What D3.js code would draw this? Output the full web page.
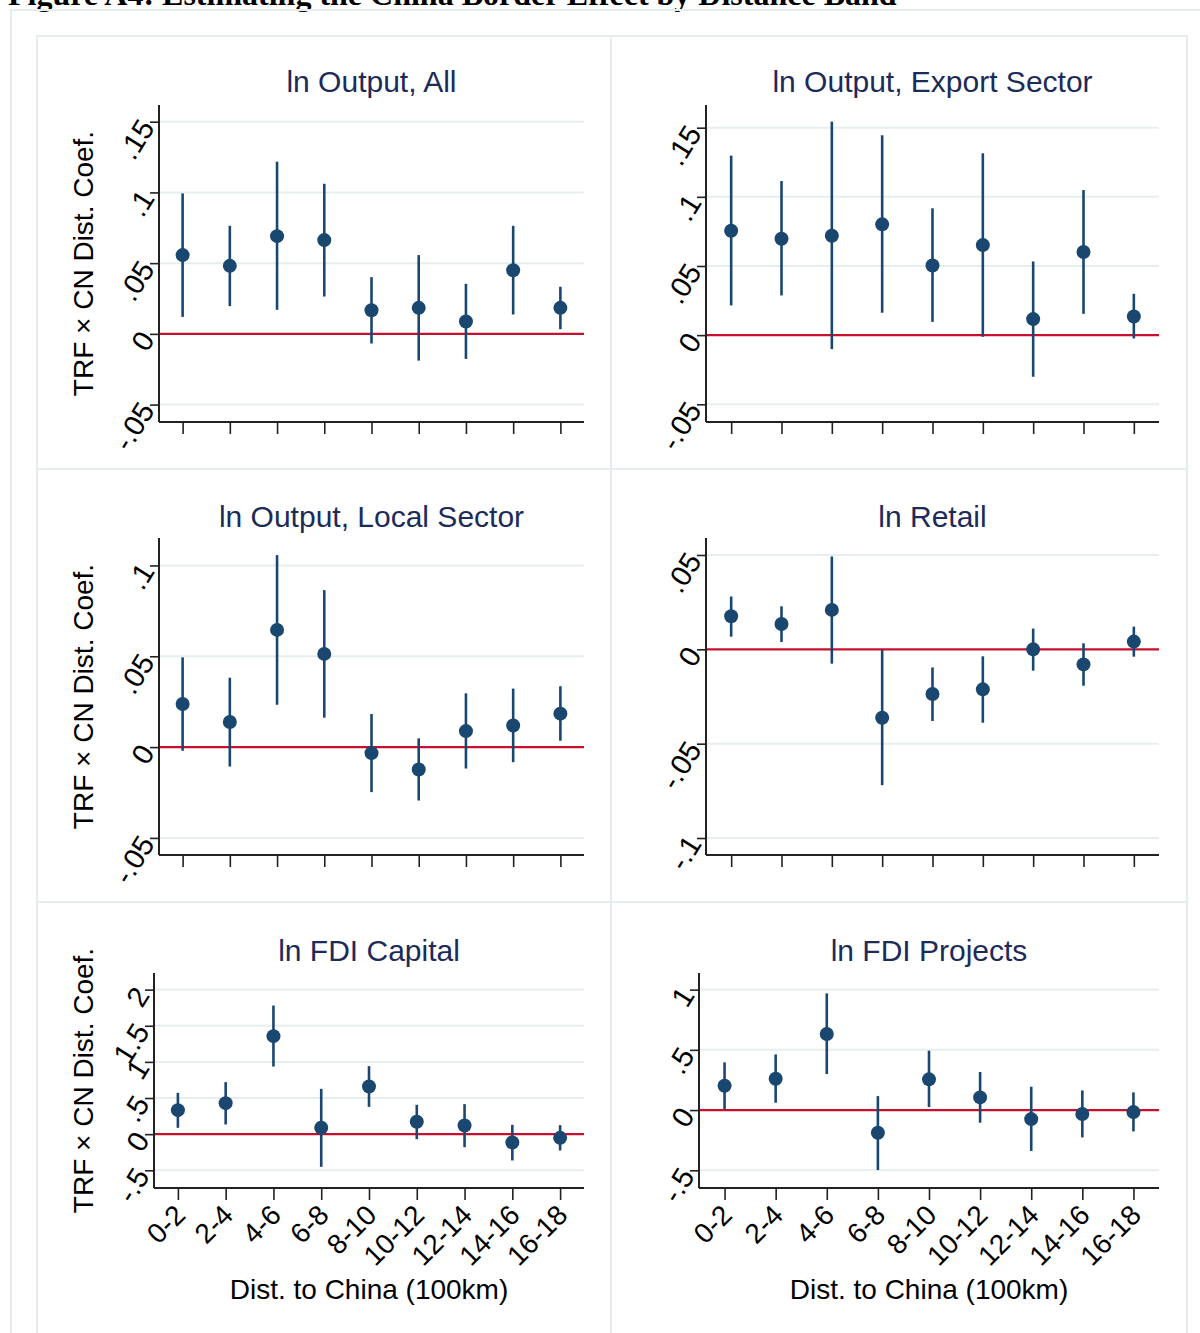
<!DOCTYPE html>
<html>
<head>
<meta charset="utf-8">
<script src="https://cdn.jsdelivr.net/npm/d3@7"></script>
<style>
  body { margin: 0; background: #fff; }
  svg text { font-family: "Liberation Sans", Arial, Helvetica, sans-serif; }
</style>
</head>
<body>
<svg id="chart" width="1200" height="1333"></svg>
<script>
// distance bands (100km)
var bands = ["0-2", "2-4", "4-6", "6-8", "8-10", "10-12", "12-14", "14-16", "16-18"]

// ln Output, All
var allCoef = [0.0557, 0.0481, 0.0691, 0.0663, 0.0167, 0.0184, 0.0087, 0.0450, 0.0184]
var allLo   = [0.0120, 0.0196, 0.0170, 0.0264, -0.0068, -0.0189, -0.0177, 0.0137, 0.0033]
var allHi   = [0.0993, 0.0764, 0.1217, 0.1061, 0.0401, 0.0557, 0.0354, 0.0764, 0.0333]

// ln Output, Export Sector
var expCoef = [0.0755, 0.0697, 0.0719, 0.0801, 0.0504, 0.0651, 0.0116, 0.0601, 0.0135]
var expLo   = [0.0215, 0.0287, -0.0101, 0.0162, 0.0096, -0.0012, -0.0301, 0.0154, -0.0024]
var expHi   = [0.1298, 0.1114, 0.1544, 0.1445, 0.0917, 0.1315, 0.0533, 0.1049, 0.0299]

// ln Output, Local Sector
var locCoef = [0.0237, 0.0138, 0.0645, 0.0513, -0.0033, -0.0123, 0.0088, 0.0119, 0.0184]
var locLo   = [-0.0020, -0.0107, 0.0233, 0.0162, -0.0248, -0.0294, -0.0118, -0.0083, 0.0035]
var locHi   = [0.0494, 0.0382, 0.1057, 0.0864, 0.0182, 0.0048, 0.0296, 0.0322, 0.0335]

// ln Retail
var retCoef = [0.0175, 0.0134, 0.0209, -0.0363, -0.0237, -0.0212, 0.0000, -0.0080, 0.0041]
var retLo   = [0.0067, 0.0039, -0.0076, -0.0720, -0.0380, -0.0389, -0.0113, -0.0193, -0.0039]
var retHi   = [0.0280, 0.0228, 0.0492, -0.0004, -0.0096, -0.0037, 0.0110, 0.0032, 0.0120]

// ln FDI Capital
var capCoef = [0.332, 0.429, 1.356, 0.088, 0.660, 0.171, 0.120, -0.115, -0.051]
var capLo   = [0.088, 0.134, 0.936, -0.452, 0.378, -0.069, -0.180, -0.364, -0.226]
var capHi   = [0.572, 0.720, 1.780, 0.627, 0.941, 0.406, 0.415, 0.129, 0.125]

// ln FDI Projects
var prjCoef = [0.202, 0.260, 0.631, -0.188, 0.255, 0.105, -0.075, -0.033, -0.017]
var prjLo   = [0.008, 0.061, 0.299, -0.498, 0.025, -0.105, -0.340, -0.227, -0.177]
var prjHi   = [0.396, 0.462, 0.969, 0.116, 0.493, 0.316, 0.194, 0.163, 0.147]

// y tick values per panel
var ticksSmall  = [-0.05, 0, 0.05, 0.1, 0.15]
var ticksLocal  = [-0.05, 0, 0.05, 0.1]
var ticksRetail = [-0.1, -0.05, 0, 0.05]
var ticksCap    = [-0.5, 0, 0.5, 1, 1.5, 2]
var ticksPrj    = [-0.5, 0, 0.5, 1]

var navy = "#1a476f",
    red = "#c8102e",
    titleCol = "#1c2b5a",
    gridCol = "#e7eeef",
    frameCol = "#e6edef"

var svg = d3.select("#chart")

function fmt(v) {
  if (v === 0) return "0"
  var s = String(Math.round(v * 1000) / 1000)
  return s.replace(/^0\./, ".").replace(/^-0\./, "-.")
}

// figure caption, cut at the top like the scanned page
svg.append("text")
  .attr("x", 8).attr("y", 5)
  .style("font-family", "'Liberation Serif', 'Times New Roman', serif")
  .style("font-weight", "bold")
  .style("font-size", "32px")
  .attr("fill", "#000")
  .text("Figure A4: Estimating the China Border Effect by Distance Band")

// page frame and panel cells
svg.append("rect").attr("x", 11).attr("y", 10).attr("width", 1220).attr("height", 1400)
  .attr("fill", "none").attr("stroke", frameCol).attr("stroke-width", 2)

var cellX = [37, 611, 1187], cellY = [36, 469, 902, 1340]
for (var r = 0; r < 3; r++) {
  for (var c = 0; c < 2; c++) {
    svg.append("rect")
      .attr("x", cellX[c]).attr("y", cellY[r])
      .attr("width", cellX[c + 1] - cellX[c]).attr("height", cellY[r + 1] - cellY[r])
      .attr("fill", "none").attr("stroke", frameCol).attr("stroke-width", 2)
  }
}

var panels = [
  {title: "ln Output, All", coef: allCoef, lo: allLo, hi: allHi, ticks: ticksSmall,
   x0: 159, x1: 584, y0: 105, y1: 422, dom: [-0.0623, 0.1618], ytitle: true, xlabels: false, ty: 92},
  {title: "ln Output, Export Sector", coef: expCoef, lo: expLo, hi: expHi, ticks: ticksSmall,
   x0: 706, x1: 1159, y0: 105, y1: 422, dom: [-0.0628, 0.1664], ytitle: false, xlabels: false, ty: 92},
  {title: "ln Output, Local Sector", coef: locCoef, lo: locLo, hi: locHi, ticks: ticksLocal,
   x0: 159, x1: 584, y0: 538, y1: 855, dom: [-0.0594, 0.1151], ytitle: true, xlabels: false, ty: 527},
  {title: "ln Retail", coef: retCoef, lo: retLo, hi: retHi, ticks: ticksRetail,
   x0: 706, x1: 1159, y0: 538, y1: 855, dom: [-0.109, 0.059], ytitle: false, xlabels: false, ty: 527},
  {title: "ln FDI Capital", coef: capCoef, lo: capLo, hi: capHi, ticks: ticksCap,
   x0: 154, x1: 584, y0: 973, y1: 1188, dom: [-0.745, 2.23], ytitle: true, xlabels: true, ty: 961},
  {title: "ln FDI Projects", coef: prjCoef, lo: prjLo, hi: prjHi, ticks: ticksPrj,
   x0: 699, x1: 1159, y0: 973, y1: 1188, dom: [-0.647, 1.138], ytitle: false, xlabels: true, ty: 961}
]

panels.forEach(drawPanel)

function drawPanel(p) {
  var g = svg.append("g")

  var x = d3.scalePoint().domain(bands).range([p.x0, p.x1]).padding(0.5)
  var y = d3.scaleLinear().domain(p.dom).range([p.y1, p.y0])

  // title
  g.append("text")
    .attr("x", (p.x0 + p.x1) / 2).attr("y", p.ty)
    .attr("text-anchor", "middle")
    .style("font-size", "30px")
    .attr("fill", titleCol)
    .text(p.title)

  // grid lines
  g.selectAll(".grid").data(p.ticks.filter(function(t) { return t !== 0 }))
    .enter().append("line")
      .attr("x1", p.x0).attr("x2", p.x1)
      .attr("y1", function(d) { return y(d) }).attr("y2", function(d) { return y(d) })
      .attr("stroke", gridCol).attr("stroke-width", 2)

  // zero line
  g.append("line")
    .attr("x1", p.x0).attr("x2", p.x1)
    .attr("y1", y(0)).attr("y2", y(0))
    .attr("stroke", red).attr("stroke-width", 2.2)

  // y axis
  var yAxis = g.append("g")
    .attr("transform", "translate(" + p.x0 + ",0)")
    .call(d3.axisLeft(y).tickValues(p.ticks).tickSize(9).tickFormat(fmt))
  yAxis.select(".domain").attr("d", "M0," + p.y0 + "V" + p.y1)
    .attr("stroke", "#222").attr("stroke-width", 2)
  yAxis.selectAll(".tick line").attr("stroke", "#222").attr("stroke-width", 1.6)
  yAxis.selectAll(".tick text")
    .attr("x", null).attr("dy", null)
    .attr("text-anchor", "end")
    .attr("dominant-baseline", "central")
    .attr("transform", "translate(-12,0) rotate(-58)")
    .style("font-size", "29px")
    .attr("fill", "#000")

  // x axis
  var xAxis = g.append("g")
    .attr("transform", "translate(0," + p.y1 + ")")
    .call(d3.axisBottom(x).tickSize(12).tickFormat(p.xlabels ? null : ""))
  xAxis.select(".domain").attr("d", "M" + p.x0 + ",0H" + p.x1)
    .attr("stroke", "#222").attr("stroke-width", 2)
  xAxis.selectAll(".tick line").attr("stroke", "#222").attr("stroke-width", 1.6)
  xAxis.selectAll(".tick text")
    .attr("y", null).attr("dy", null)
    .attr("text-anchor", "end")
    .attr("dominant-baseline", "central")
    .attr("transform", "translate(2,22) rotate(-45)")
    .style("font-size", "28px")
    .attr("fill", "#000")

  // confidence intervals
  g.selectAll(".ci").data(bands)
    .enter().append("line")
      .attr("x1", function(d) { return x(d) }).attr("x2", function(d) { return x(d) })
      .attr("y1", function(d, i) { return y(p.lo[i]) })
      .attr("y2", function(d, i) { return y(p.hi[i]) })
      .attr("stroke", navy).attr("stroke-width", 2.6)

  // point estimates
  g.selectAll(".pt").data(bands)
    .enter().append("circle")
      .attr("cx", function(d) { return x(d) })
      .attr("cy", function(d, i) { return y(p.coef[i]) })
      .attr("r", 7)
      .attr("fill", navy)

  if (p.ytitle) {
    var cy = (p.y0 + p.y1) / 2
    g.append("text")
      .attr("transform", "translate(93," + cy + ") rotate(-90)")
      .attr("text-anchor", "middle")
      .style("font-size", "28px")
      .attr("fill", "#000")
      .text("TRF × CN Dist. Coef.")
  }

  if (p.xlabels) {
    g.append("text")
      .attr("x", (p.x0 + p.x1) / 2).attr("y", 1299)
      .attr("text-anchor", "middle")
      .style("font-size", "28px")
      .attr("fill", "#000")
      .text("Dist. to China (100km)")
  }
}
</script>
</body>
</html>
